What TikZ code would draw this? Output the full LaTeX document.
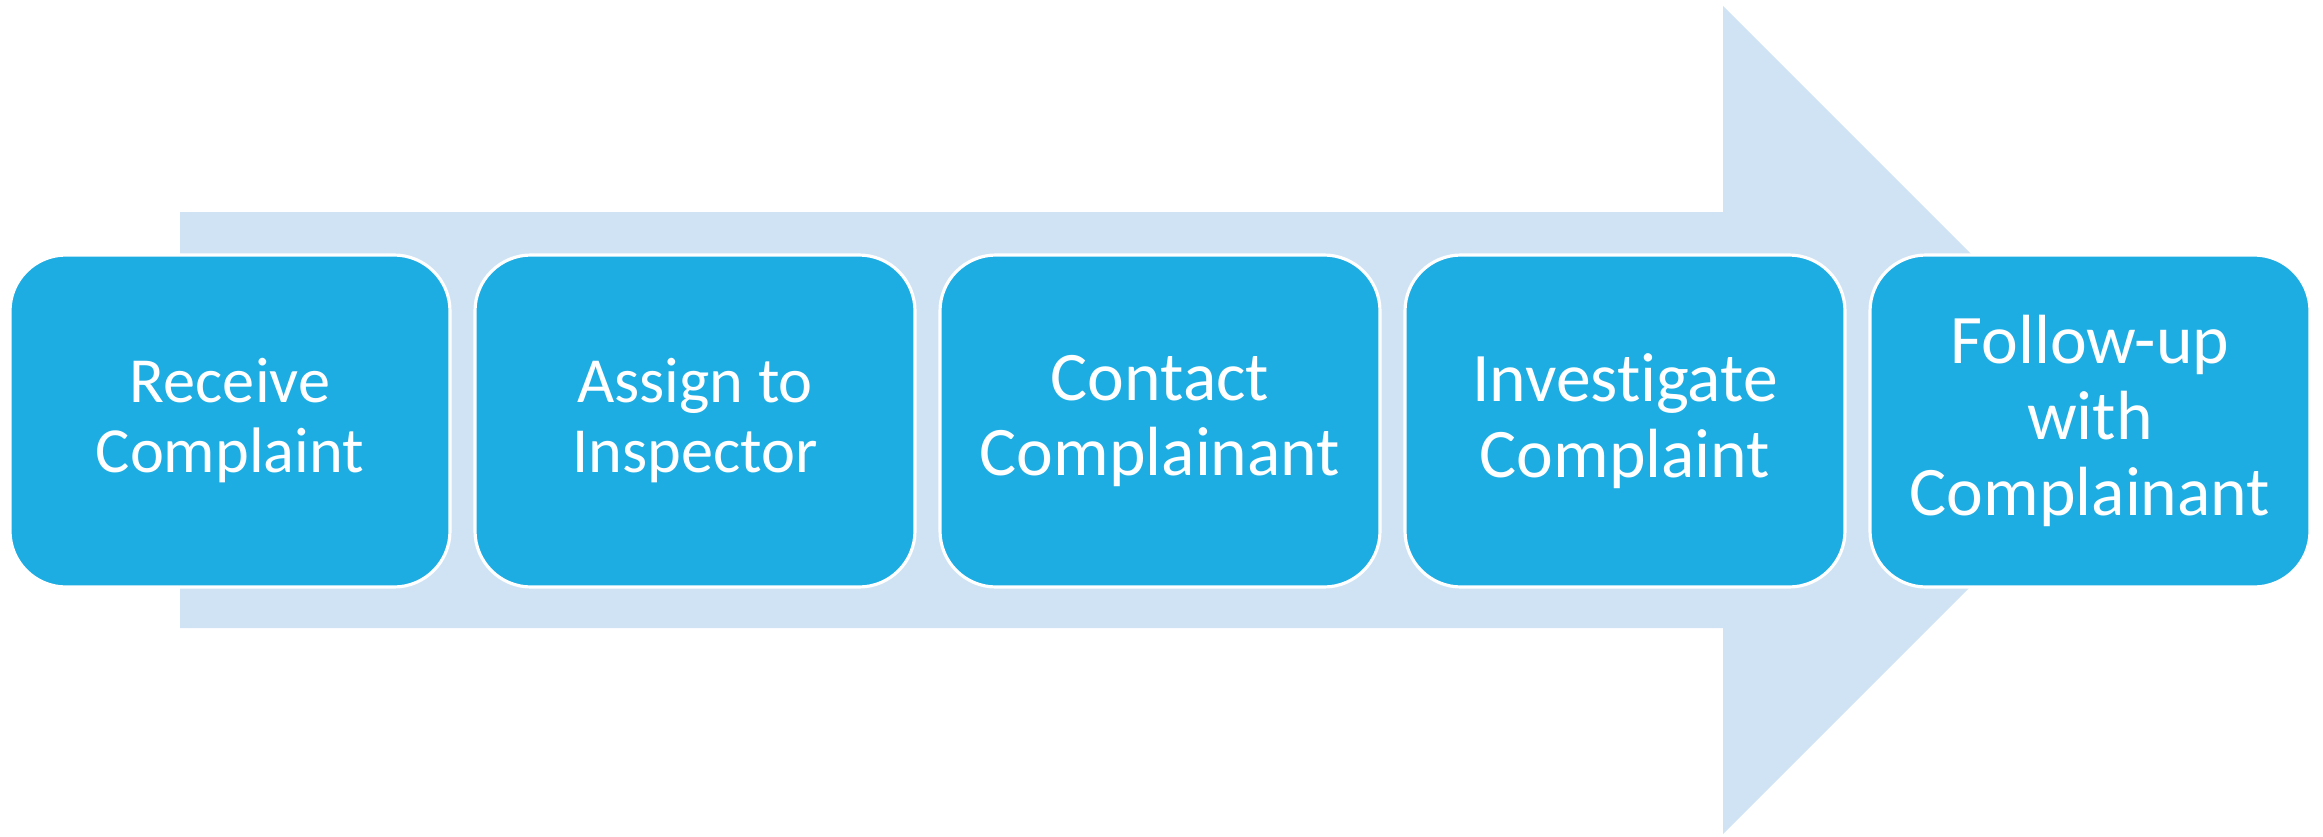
\documentclass[tikz,border=0pt]{standalone}
\usepackage{fontspec}
\setmainfont{Carlito}[Ligatures=NoCommon]
\usepackage{xcolor}
\usetikzlibrary{positioning}
\definecolor{stepblue}{HTML}{1EADE3}
\definecolor{arrowblue}{HTML}{CFE3F5}

\begin{document}
\begin{tikzpicture}[
  stepbox/.style={draw=white, line width=0.9pt, fill=stepblue, rounded corners=0.56cm,
    minimum width=4.40cm, minimum height=3.32cm, inner sep=0pt, outer sep=0pt,
    align=center, text=white},
  smalltext/.style={font=\fontsize{18.3}{19.9}\selectfont},
  bigtext/.style={font=\fontsize{19.8}{21.6}\selectfont},
  node distance=0.25cm]
\useasboundingbox (0,0) rectangle (23.23,8.36);
% the big arrow behind the steps
\fill[arrowblue] (1.80,6.24) -- (17.23,6.24) -- (17.23,8.30) -- (21.37,4.16)
  -- (17.23,0.02) -- (17.23,2.08) -- (1.80,2.08) -- cycle;
\node[stepbox,smalltext] (receive) at (2.30,4.15) {Receive\\Complaint};
\node[stepbox,smalltext,right=of receive] (assign) {Assign to\\Inspector};
\node[stepbox,bigtext,right=of assign] (contact) {Contact\\Complainant};
\node[stepbox,bigtext,right=of contact] (investigate) {Investigate\\Complaint};
\node[stepbox,bigtext,right=of investigate] (followup) {Follow-up\\with\\Complainant};
\end{tikzpicture}
\end{document}
